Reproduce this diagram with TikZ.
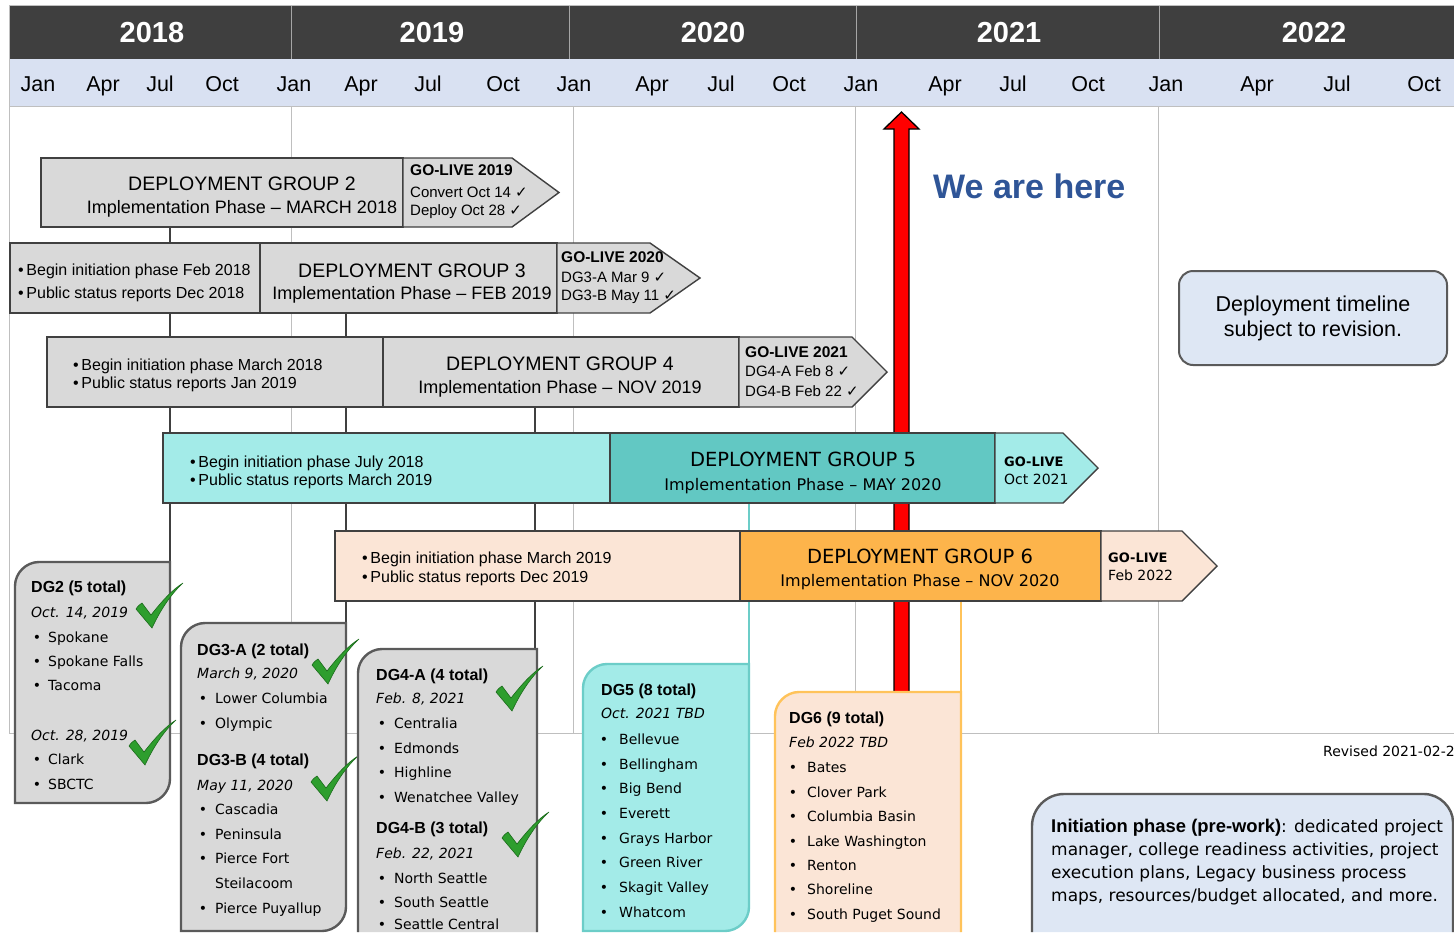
\documentclass[tikz,border=0pt]{standalone}
\usepackage{fontspec}
\setmainfont{Liberation Sans}
\newfontfamily\dvf{DejaVu Sans}
\usetikzlibrary{calc}
\definecolor{hdr}{HTML}{3F3F3F}
\definecolor{mon}{HTML}{D9E1F2}
\definecolor{gridc}{HTML}{BFBFBF}
\definecolor{barg}{HTML}{D9D9D9}
\definecolor{barline}{HTML}{404040}
\definecolor{boxline}{HTML}{5A5A5A}
\definecolor{cyanl}{HTML}{A3EBE8}
\definecolor{teal}{HTML}{62C8C3}
\definecolor{tealb}{HTML}{6CCDC8}
\definecolor{peach}{HTML}{FBE5D6}
\definecolor{orng}{HTML}{FDB44B}
\definecolor{orngb}{HTML}{FFC35A}
\definecolor{weblue}{HTML}{2F5597}
\definecolor{notef}{HTML}{DEE7F4}
\definecolor{chkg}{HTML}{2E9E2E}
\definecolor{chkd}{HTML}{1C6B1C}
\definecolor{redar}{HTML}{FF0000}
\newcommand\fYr{\fontsize{29}{30}\selectfont\bfseries}
\newcommand\fMo{\fontsize{21.5}{22}\selectfont}
\newcommand\fHd{\fontsize{19.5}{20}\selectfont}
\newcommand\fImp{\fontsize{18}{19}\selectfont}
\newcommand\fHdD{\dvf\fontsize{19.5}{20}\selectfont}
\newcommand\fImpD{\dvf\fontsize{16}{17}\selectfont}
\newcommand\fIni{\fontsize{16}{17}\selectfont}
\newcommand\fGLb{\fontsize{15.5}{16}\selectfont\bfseries}
\newcommand\fGL{\fontsize{15}{16}\selectfont}
\newcommand\fGLbD{\dvf\fontsize{13}{14}\selectfont\bfseries}
\newcommand\fGLD{\dvf\fontsize{14}{15}\selectfont}
\newcommand\fLh{\fontsize{16}{17}\selectfont\bfseries}
\newcommand\fLd{\dvf\fontsize{14}{15}\selectfont\itshape}
\newcommand\fLi{\dvf\fontsize{14}{15}\selectfont}
\newcommand\fWe{\fontsize{34}{35}\selectfont\bfseries}
\newcommand\fNote{\fontsize{21.5}{22}\selectfont}
\newcommand\fInB{\fontsize{18.4}{19}\selectfont\bfseries}
\newcommand\fInR{\dvf\fontsize{17}{18}\selectfont}
\newcommand\ck{{\dvf ✓}}
% list box with rounded top-left and bottom-right corners
\newcommand\lbox[5]{%
  \draw[#5] (#1,#4) -- (#1,#2+24) .. controls (#1,#2+11) and (#1+11,#2) .. (#1+24,#2)
    -- (#3,#2) -- (#3,#4-24) .. controls (#3,#4-11) and (#3-11,#4) .. (#3-24,#4) -- cycle;}
% list box whose bottom runs off the picture
\newcommand\lboxopen[5]{%
  \fill[#5] (#1,932) -- (#1,#2+24) .. controls (#1,#2+11) and (#1+11,#2) .. (#1+24,#2)
    -- (#3,#2) -- (#3,932) -- cycle;
  \draw[#4] (#1,932) -- (#1,#2+24) .. controls (#1,#2+11) and (#1+11,#2) .. (#1+24,#2)
    -- (#3,#2) -- (#3,932);}
\begin{document}
\begin{tikzpicture}[x=1pt,y=-1pt,
  tl/.style={inner sep=0pt, anchor=base west},
  tc/.style={inner sep=0pt, anchor=base},
  barst/.style={draw=barline, line width=1.4pt},
  gridl/.style={draw=gridc, line width=1pt},
  conn/.style={draw=barline, line width=1.8pt},
  chkmark/.pic={\filldraw[fill=chkg, draw=chkd, line width=0.6pt]
     (0,26) .. controls (2,23) and (4,21) .. (6,20) -- (15,32)
     .. controls (26,18) and (36,7) .. (47,0)
     .. controls (34,12) and (24,28) .. (16,45) -- cycle;}]
\useasboundingbox (0,0) rectangle (1454,932);
\fill[white] (0,0) rectangle (1454,932);
% ---------- header ----------
\fill[hdr] (9,6) rectangle (1454,59);
\fill[mon] (9,59) rectangle (1454,106);
\draw[gridl] (9,5) -- (1454,5);
\draw[gridl] (9,106) -- (1454,106);
\foreach \x in {291,569,856,1159} \draw[draw=gray!70, line width=1pt] (\x,6) -- (\x,59);
\foreach \x/\t [count=\i] in {152/2018,432/2019,713/2020,1009/2021,1314/2022}
  \node[tc, font=\fYr, text=white] (yr\i) at (\x,42) {\t};
\foreach \x/\t [count=\i] in {38/Jan,103/Apr,160/Jul,222/Oct,294/Jan,361/Apr,428/Jul,503/Oct,
   574/Jan,652/Apr,721/Jul,789/Oct,861/Jan,945/Apr,1013/Jul,1088/Oct,1166/Jan,1257/Apr,1337/Jul,1424/Oct}
  \node[tc, font=\fMo] (mo\i) at (\x,91) {\t};
% ---------- grid ----------
\draw[gridl] (9,5) -- (9,733);
\foreach \x in {291,573,855,1158} \draw[gridl] (\x,106) -- (\x,733);
\draw[gridl] (9,733) -- (1454,733);
% ---------- red arrow ----------
\draw[black, line width=1.3pt, fill=redar, line join=miter]
  (894,694) -- (894,129) -- (884,129) -- (901.5,112) -- (919,129) -- (909,129) -- (909,694) -- cycle;
% ---------- connectors ----------
\coordinate (c2a) at (170,227); \coordinate (c2b) at (170,562);
\coordinate (c3a) at (346,313); \coordinate (c3b) at (346,623);
\coordinate (c4a) at (535,407); \coordinate (c4b) at (535,649);
\coordinate (c5a) at (749,503); \coordinate (c5b) at (749,664);
\coordinate (c6a) at (961,601); \coordinate (c6b) at (961,692);
\draw[conn] (c2a) -- (c2b);
\draw[conn] (c3a) -- (c3b);
\draw[conn] (c4a) -- (c4b);
\draw[draw=tealb, line width=1.8pt] (c5a) -- (c5b);
\draw[draw=orngb, line width=1.8pt] (c6a) -- (c6b);
% ---------- DG2 bar ----------
\draw[barst, fill=barg] (41,158) rectangle (403,227);
\draw[barst, fill=barg] (403,158) -- (512,158) -- (559,192.5) -- (512,227) -- (403,227) -- cycle;
\node[tc, font=\fHd] (dg2h) at (242,190) {DEPLOYMENT GROUP 2};
\node[tc, font=\fImp] (dg2p) at (242,213) {Implementation Phase – MARCH 2018};
\node[tl, font=\fGLb] (dg2g) at (410,175) {GO-LIVE 2019};
\node[tl, font=\fGL] (dg2g1) at (410,197) {Convert Oct 14 \ck};
\node[tl, font=\fGL] (dg2g2) at (410,215) {Deploy Oct 28 \ck};
% ---------- DG3 bar ----------
\draw[barst, fill=barg] (10,243) rectangle (260,313);
\draw[barst, fill=barg] (260,243) rectangle (557,313);
\draw[barst, fill=barg] (557,243) -- (650,243) -- (700,278) -- (650,313) -- (557,313) -- cycle;
\node[tl, font=\fIni] (dg3a) at (18,275) {•\,Begin initiation phase Feb 2018};
\node[tl, font=\fIni] (dg3b) at (18,298) {•\,Public status reports Dec 2018};
\node[tc, font=\fHd] (dg3h) at (412,277) {DEPLOYMENT GROUP 3};
\node[tc, font=\fImp] (dg3p) at (412,299) {Implementation Phase – FEB 2019};
\node[tl, font=\fGLb] (dg3g) at (561,262) {GO-LIVE 2020};
\node[tl, font=\fGL] (dg3g1) at (561,282) {DG3-A Mar 9 \ck};
\node[tl, font=\fGL] (dg3g2) at (561,300) {DG3-B May 11 \ck};
% ---------- DG4 bar ----------
\draw[barst, fill=barg] (47,337) rectangle (383,407);
\draw[barst, fill=barg] (383,337) rectangle (739,407);
\draw[barst, fill=barg] (739,337) -- (852,337) -- (887,372) -- (852,407) -- (739,407) -- cycle;
\node[tl, font=\fIni] (dg4a) at (73,370) {•\,Begin initiation phase March 2018};
\node[tl, font=\fIni] (dg4b) at (73,388) {•\,Public status reports Jan 2019};
\node[tc, font=\fHd] (dg4h) at (560,370) {DEPLOYMENT GROUP 4};
\node[tc, font=\fImp] (dg4p) at (560,393) {Implementation Phase – NOV 2019};
\node[tl, font=\fGLb] (dg4g) at (745,357) {GO-LIVE 2021};
\node[tl, font=\fGL] (dg4g1) at (745,376) {DG4-A Feb 8 \ck};
\node[tl, font=\fGL] (dg4g2) at (745,396) {DG4-B Feb 22 \ck};
% ---------- DG5 bar ----------
\draw[barst, fill=cyanl] (163,433) rectangle (610,503);
\draw[barst, fill=teal] (610,433) rectangle (995,503);
\draw[barst, fill=cyanl] (995,433) -- (1063,433) -- (1098,468) -- (1063,503) -- (995,503) -- cycle;
\node[tl, font=\fIni] (dg5a) at (190,467) {•\,Begin initiation phase July 2018};
\node[tl, font=\fIni] (dg5b) at (190,485) {•\,Public status reports March 2019};
\node[tc, font=\fHdD] (dg5h) at (803,466) {DEPLOYMENT GROUP 5};
\node[tc, font=\fImpD] (dg5p) at (803,490) {Implementation Phase – MAY 2020};
\node[tl, font=\fGLbD] (dg5g) at (1004,466) {GO-LIVE};
\node[tl, font=\fGLD] (dg5g1) at (1004,484) {Oct 2021};
% ---------- DG6 bar ----------
\draw[barst, fill=peach] (335,531) rectangle (740,601);
\draw[barst, fill=orng] (740,531) rectangle (1101,601);
\draw[barst, fill=peach] (1101,531) -- (1182,531) -- (1217,566) -- (1182,601) -- (1101,601) -- cycle;
\node[tl, font=\fIni] (dg6a) at (362,563) {•\,Begin initiation phase March 2019};
\node[tl, font=\fIni] (dg6b) at (362,582) {•\,Public status reports Dec 2019};
\node[tc, font=\fHdD] (dg6h) at (920,563) {DEPLOYMENT GROUP 6};
\node[tc, font=\fImpD] (dg6p) at (920,586) {Implementation Phase – NOV 2020};
\node[tl, font=\fGLbD] (dg6g) at (1108,562) {GO-LIVE};
\node[tl, font=\fGLD] (dg6g1) at (1108,580) {Feb 2022};
% ---------- We are here ----------
\node[tl, font=\fWe, text=weblue] (here) at (933,198) {We are here};
% ---------- note box ----------
\node[draw=boxline, fill=notef, line width=2pt, rounded corners=14pt,
      minimum width=268pt, minimum height=94pt, inner sep=0pt] (note) at (1313,318) {};
\node[tc, font=\fNote] (note1) at (1313,311) {Deployment timeline};
\node[tc, font=\fNote] (note2) at (1313,336) {subject to revision.};
% ---------- DG2 list ----------
\lbox{15}{562}{170}{803}{draw=boxline, fill=barg, line width=2.4pt}
\node[tl, font=\fLh] (l2h) at (31,592) {DG2 (5 total)};
\node[tl, font=\fLd] (l2d1) at (31,617) {Oct. 14, 2019};
\node[tl, font=\fLd] (l2d2) at (31,740) {Oct. 28, 2019};
\foreach \y/\t [count=\i] in {642/Spokane,666/Spokane Falls,690/Tacoma,764/Clark,789/SBCTC}{
  \node[tc, font=\fLi] (l2b\i) at (37,\y) {•};
  \node[tl, font=\fLi] (l2i\i) at (48,\y) {\t};}
\pic at (136,583) {chkmark};
\pic at (129,720) {chkmark};
% ---------- DG3 list ----------
\lbox{181}{623}{346}{931}{draw=boxline, fill=barg, line width=2.4pt}
\node[tl, font=\fLh] (l3h1) at (197,655) {DG3-A (2 total)};
\node[tl, font=\fLd] (l3d1) at (197,678) {March 9, 2020};
\node[tl, font=\fLh] (l3h2) at (197,765) {DG3-B (4 total)};
\node[tl, font=\fLd] (l3d2) at (197,790) {May 11, 2020};
\foreach \y/\t [count=\i] in {703/Lower Columbia,728/Olympic,814/Cascadia,839/Peninsula,863/Pierce Fort,913/Pierce Puyallup}{
  \node[tc, font=\fLi] (l3b\i) at (203,\y) {•};
  \node[tl, font=\fLi] (l3i\i) at (215,\y) {\t};}
\node[tl, font=\fLi] (l3i7) at (215,888) {Steilacoom};
\pic at (312,639) {chkmark};
\pic at (311,756) {chkmark};
% ---------- DG4 list ----------
\lboxopen{358}{649}{537}{draw=boxline, line width=2.4pt}{barg}
\node[tl, font=\fLh] (l4h1) at (376,680) {DG4-A (4 total)};
\node[tl, font=\fLd] (l4d1) at (376,703) {Feb. 8, 2021};
\node[tl, font=\fLh] (l4h2) at (376,833) {DG4-B (3 total)};
\node[tl, font=\fLd] (l4d2) at (376,858) {Feb. 22, 2021};
\foreach \y/\t [count=\i] in {728/Centralia,753/Edmonds,777/Highline,802/Wenatchee Valley,883/North Seattle,907/South Seattle,929/Seattle Central}{
  \node[tc, font=\fLi] (l4b\i) at (382,\y) {•};
  \node[tl, font=\fLi] (l4i\i) at (394,\y) {\t};}
\pic at (496,666) {chkmark};
\pic at (502,812) {chkmark};
% ---------- DG5 list ----------
\lbox{583}{664}{749}{931}{draw=tealb, fill=cyanl, line width=2.4pt}
\node[tl, font=\fLh] (l5h) at (601,695) {DG5 (8 total)};
\node[tl, font=\fLd] (l5d) at (601,718) {Oct. 2021 TBD};
\foreach \y/\t [count=\i] in {744/Bellevue,769/Bellingham,793/Big Bend,818/Everett,843/Grays Harbor,867/Green River,892/Skagit Valley,917/Whatcom}{
  \node[tc, font=\fLi] (l5b\i) at (604,\y) {•};
  \node[tl, font=\fLi] (l5i\i) at (619,\y) {\t};}
% ---------- DG6 list ----------
\lboxopen{775}{692}{961}{draw=orngb, line width=2.4pt}{peach}
\node[tl, font=\fLh] (l6h) at (789,723) {DG6 (9 total)};
\node[tl, font=\fLd] (l6d) at (789,747) {Feb 2022 TBD};
\foreach \y/\t [count=\i] in {772/Bates,797/Clover Park,821/Columbia Basin,846/Lake Washington,870/Renton,894/Shoreline,919/South Puget Sound}{
  \node[tc, font=\fLi] (l6b\i) at (793,\y) {•};
  \node[tl, font=\fLi] (l6i\i) at (807,\y) {\t};}
% ---------- revised ----------
\node[tl, font=\fLi] (rev) at (1323,756) {Revised 2021-02-2};
% ---------- initiation note ----------
\fill[notef] (1032,932) -- (1032,826) .. controls (1032,809) and (1046,794) .. (1064,794)
   -- (1424,794) .. controls (1440,794) and (1453,808) .. (1453,822) -- (1453,932) -- cycle;
\draw[draw=boxline, line width=2.4pt] (1032,932) -- (1032,826) .. controls (1032,809) and (1046,794) .. (1064,794)
   -- (1424,794) .. controls (1440,794) and (1453,808) .. (1453,822) -- (1453,932);
\node[tl] (in1) at (1051,832) {{\fInB Initiation phase (pre-work)}{\fInR : dedicated project}};
\node[tl, font=\fInR] (in2) at (1051,855) {manager, college readiness activities, project};
\node[tl, font=\fInR] (in3) at (1051,878) {execution plans, Legacy business process};
\node[tl, font=\fInR] (in4) at (1051,901) {maps, resources/budget allocated, and more.};
\end{tikzpicture}
\end{document}
